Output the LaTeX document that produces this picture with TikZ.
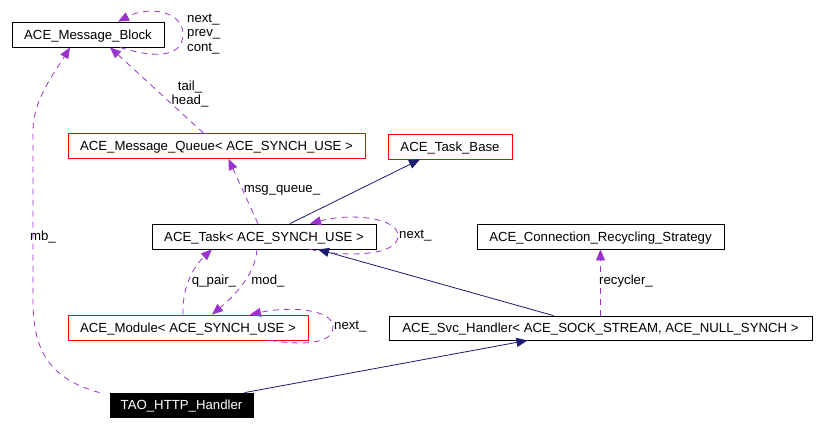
\documentclass[tikz,border=0pt]{standalone}
\usepackage{fontspec}
\setmainfont{Liberation Sans}
\usetikzlibrary{arrows.meta,calc}
\definecolor{edgepurple}{HTML}{9A32CD}
\definecolor{edgenavy}{HTML}{191970}
\tikzset{
  cls/.style={draw=black, line width=0.8pt, fill=white, inner sep=0pt, minimum height=25pt, text height=9.4pt, text depth=0pt, font=\fontsize{13.2}{15}\selectfont, text=black},
  redcls/.style={cls, draw=red},
  blackcls/.style={cls, draw=black, fill=black, text=white},
  uses/.style={draw=edgepurple, line width=0.8pt, dash pattern=on 6pt off 5pt, -{Triangle[length=11pt,width=9pt]}},
  inh/.style={draw=edgenavy, line width=0.8pt, -{Triangle[length=11pt,width=9pt]}},
  lbl/.style={font=\fontsize{13.2}{14.5}\selectfont, inner sep=0pt, text=black},
}
\begin{document}
\begin{tikzpicture}[x=1pt,y=-1pt]
\useasboundingbox (0,0) rectangle (817,424);
% nodes
\node[cls, minimum width=152pt] (mb) at (88,34.5) {ACE\_Message\_Block};
\node[redcls, minimum width=297pt] (mq) at (216.5,146) {ACE\_Message\_Queue< ACE\_SYNCH\_USE >};
\node[redcls, minimum width=124pt] (tb) at (450,146.5) {ACE\_Task\_Base};
\node[cls, minimum width=224pt] (task) at (264,236.5) {ACE\_Task< ACE\_SYNCH\_USE >};
\node[cls, minimum width=247pt] (crs) at (600.5,236.5) {ACE\_Connection\_Recycling\_Strategy};
\node[redcls, minimum width=240pt] (mod) at (188,327.5) {ACE\_Module< ACE\_SYNCH\_USE >};
\node[cls, minimum width=423pt, minimum height=24pt] (svc) at (600.5,328) {ACE\_Svc\_Handler< ACE\_SOCK\_STREAM, ACE\_NULL\_SYNCH >};
\node[blackcls, minimum width=143pt, minimum height=24pt] (tao) at (181.5,405) {TAO\_HTTP\_Handler};
% Message_Block self loop
\draw[uses] ([xshift=32]mb.south) .. controls (160,60) and (183,55) .. (183,34) .. controls (183,12) and (150,5) .. ([xshift=30]mb.north);
\node[lbl, anchor=west, align=left] (mbl) at (187,34) {next\_\\prev\_\\cont\_};
% tail_/head_
\draw[uses] ([xshift=-13]mq.north) -- ([xshift=22]mb.south);
\node[lbl, align=center] (th) at (190,94) {tail\_\\head\_};
% mb_
\draw[uses] ([xshift=-10]tao.north west) .. controls (45,378) and (33,345) .. (33,300) -- (33,130) .. controls (33,100) and (55,72) .. ([xshift=-18]mb.south);
\node[lbl] (mbl2) at (43,237) {mb\_};
% msg_queue_
\draw[uses] ([xshift=-6]task.north) -- ([xshift=12]mq.south);
\node[lbl] (mql) at (282,190) {msg\_queue\_};
% Task -> Task_Base
\draw[inh] ([xshift=26]task.north) -- ([xshift=-30]tb.south);
% Task self loop
\draw[uses] ([xshift=46]task.south) .. controls (350,258) and (398,255) .. (398,236) .. controls (398,217) and (350,213) .. ([xshift=46]task.north);
\node[lbl, anchor=west] (tnl) at (399,236) {next\_};
% q_pair_
\draw[uses] ([xshift=-5]mod.north) .. controls (182,285) and (195,265) .. ([xshift=-52]task.south);
\node[lbl] (qpl) at (214,281) {q\_pair\_};
% mod_
\draw[uses] ([xshift=-7]task.south) .. controls (255,275) and (235,295) .. ([xshift=24]mod.north);
\node[lbl] (mdl) at (268,281) {mod\_};
% Module self loop
\draw[uses] ([xshift=82]mod.south) .. controls (300,345) and (333,345) .. (333,327) .. controls (333,309) and (290,306) .. ([xshift=62]mod.north);
\node[lbl, anchor=west] (mnl) at (334,327) {next\_};
% Svc_Handler -> Task
\draw[inh] ([xshift=-47]svc.north) -- ([xshift=54]task.south);
% recycler_
\draw[uses] (svc.north) -- (crs.south);
\node[lbl] (rcl) at (626,281) {recycler\_};
% TAO -> Svc_Handler
\draw[inh] ([xshift=63]tao.north) -- ([xshift=-73]svc.south);
\end{tikzpicture}
\end{document}
